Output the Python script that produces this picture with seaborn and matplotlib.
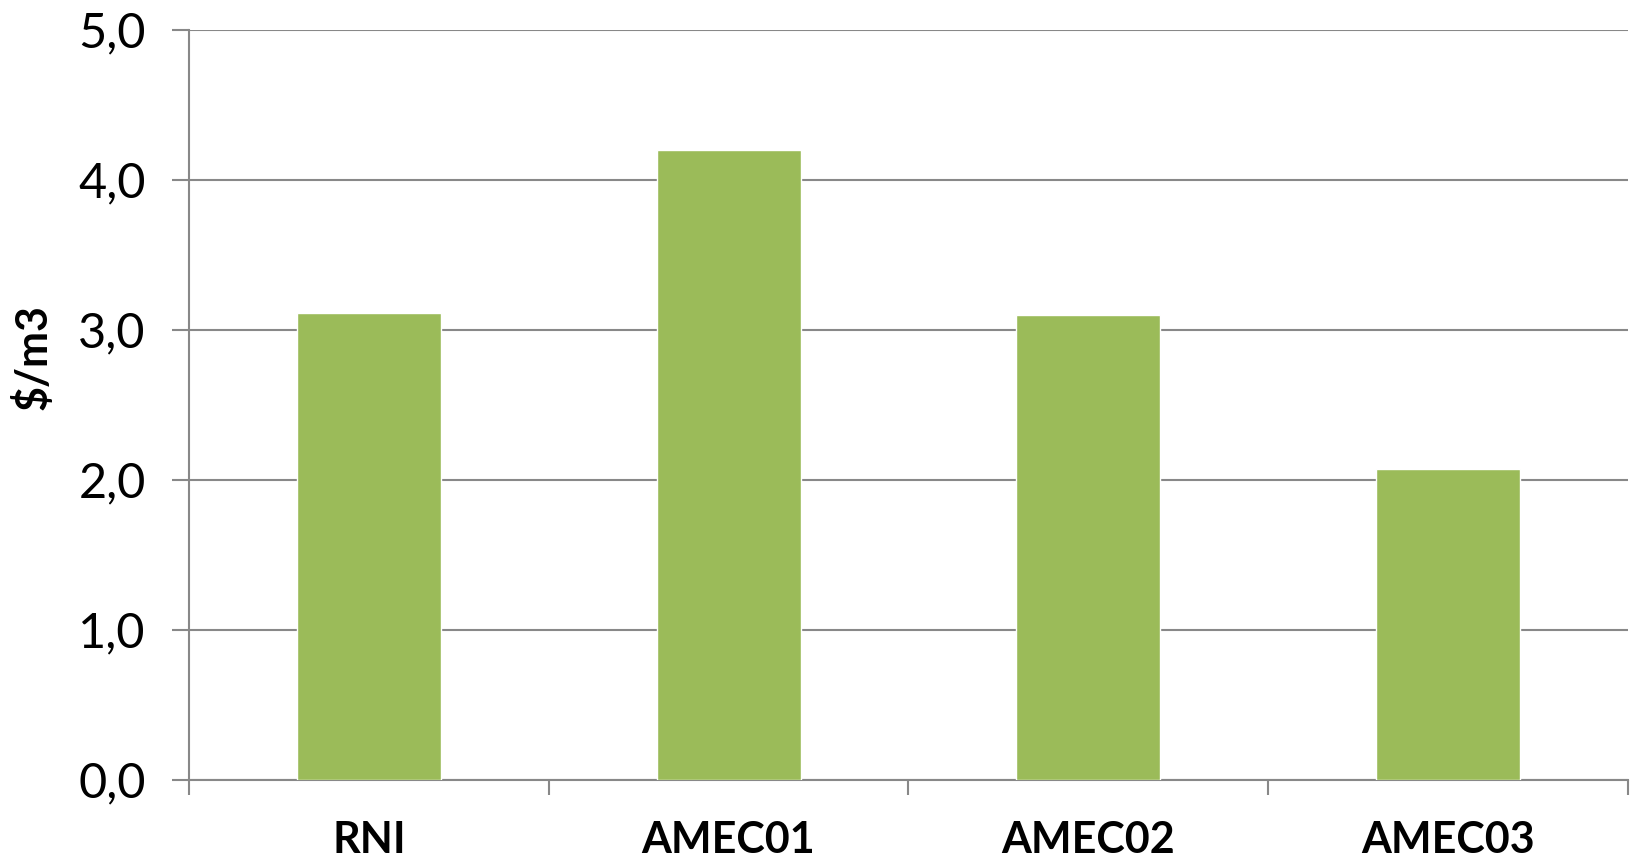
#!/usr/bin/env python3
"""
Bar chart: cost per m3 by scenario
"""

import matplotlib.pyplot as plt
import seaborn as sns
import pandas as pd

# Data
categories = ['RNI', 'AMEC01', 'AMEC02', 'AMEC03']
values = [3.11, 4.20, 3.10, 2.07]
y_ticks = [0, 1, 2, 3, 4, 5]

sns.set_theme(style="white")
plt.rcParams['font.family'] = ['Lato', 'DejaVu Sans']

df = pd.DataFrame({'Category': categories, 'Value': values})

fig = plt.figure(figsize=(16.33, 8.66), dpi=100)
ax = fig.add_axes([0.1157, 0.0997, 0.8812, 0.866])

sns.barplot(data=df, x='Category', y='Value', color='#9BBB59', width=0.4,
            saturation=1, ax=ax, zorder=3)

ax.set_xlim(-0.5, len(categories) - 0.5)
ax.set_ylim(0, 5)
ax.set_yticks(y_ticks)
ax.set_yticklabels([f'{v:.1f}'.replace('.', ',') for v in y_ticks])
ax.grid(axis='y', color='#888888', linewidth=1.5, zorder=0)
ax.set_axisbelow(True)

for s in ['top', 'right']:
    ax.spines[s].set_visible(False)
for s in ['left', 'bottom']:
    ax.spines[s].set_color('#888888')
    ax.spines[s].set_linewidth(1.5)

ax.tick_params(axis='y', length=12, width=1.5, color='#888888', pad=19,
               labelsize=35, labelcolor='black', left=True)
ax.tick_params(axis='x', length=0, pad=29, labelsize=31, labelcolor='black')
for lbl in ax.get_xticklabels():
    lbl.set_fontweight('bold')

# boundary ticks between categories
ax.set_xticks([i - 0.5 for i in range(len(categories) + 1)], minor=True)
ax.tick_params(axis='x', which='minor', length=11, width=1.5, color='#888888',
               bottom=True)

ax.set_xlabel('')
ax.set_ylabel('$/m3', fontsize=31, fontweight='bold', color='black')
ax.yaxis.set_label_coords(-0.094, 0.563)

plt.savefig('out.png', dpi=100)
print("Saved: out.png")
